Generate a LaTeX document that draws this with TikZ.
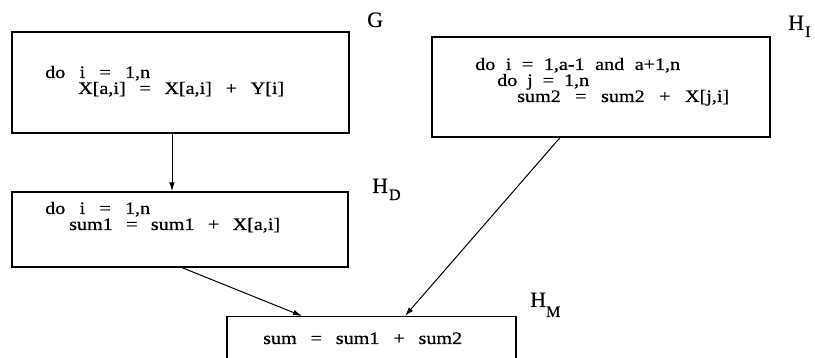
\documentclass[tikz,border=0pt]{standalone}
\usepackage{fontspec}
\setmainfont{Liberation Serif}
\newfontfamily\codefont[FakeBold=0.6,FakeStretch=1.15]{Liberation Serif}
\newfontfamily\lblfont[FakeBold=0.4]{Liberation Serif}
\usetikzlibrary{arrows.meta}
\tikzset{
  codebox/.style={draw, line width=1.3pt, inner sep=0pt},
  code/.style={anchor=base west, inner sep=0pt, font=\codefont\fontsize{17.5}{19}\selectfont},
  lbl/.style={anchor=base west, inner sep=0pt, font=\lblfont\fontsize{22}{23}\selectfont},
  flow/.style={line width=1pt, -{Latex[length=9pt,width=5.5pt]}}
}
\newcommand{\codeline}[2]{\makebox[#1pt][s]{#2}}
\newcommand{\subl}[2]{\raisebox{#1pt}{\fontsize{16}{16}\selectfont #2}}
\begin{document}
\begin{tikzpicture}[x=1pt,y=-1pt]
\useasboundingbox (0,0) rectangle (815,358);
\clip (0,0) rectangle (815,358);
% boxes
\node[codebox, minimum width=337pt, minimum height=101pt] (Gb) at (180.5,82.5) {};
\node[codebox, minimum width=336pt, minimum height=75pt] (HDb) at (180,229.5) {};
\node[codebox, minimum width=338pt, minimum height=100pt] (HIb) at (601,87) {};
\node[codebox, minimum width=289pt, minimum height=60pt, anchor=north] (HMb) at (371.5,316) {};
% code text
\node[code] (g1) at (45,78) {\codeline{105}{do i = 1,n}};
\node[code] (g2) at (78,94) {\codeline{206}{X[a,i] = X[a,i] + Y[i]}};
\node[code] (d1) at (45,214) {\codeline{105}{do i = 1,n}};
\node[code] (d2) at (69,230) {\codeline{211}{sum1 = sum1 + X[a,i]}};
\node[code] (i1) at (475,70) {\codeline{205}{do i = 1,a-1 and a+1,n}};
\node[code] (i2) at (497,86) {\codeline{92}{do j = 1,n}};
\node[code] (i3) at (517,102) {\codeline{212}{sum2 = sum2 + X[j,i]}};
\node[code] (m1) at (263,344) {\codeline{199}{sum = sum1 + sum2}};
% labels
\node[lbl] (lG) at (367,27) {G};
\node[lbl] (lI) at (788,30) {H\hspace{1pt}\subl{-7}{I}};
\node[lbl] (lD) at (372,193) {H\hspace{1pt}\subl{-7}{D}};
\node[lbl] (lM) at (530,307) {H\subl{-10}{M}};
% connectors
\draw[flow] (Gb.south -| 172,0) -- (HDb.north -| 172,0);
\draw[flow] (HDb.south -| 182,0) -- (HMb.north -| 302,0);
\draw[flow] (HIb.south -| 560,0) -- (HMb.north -| 405,0);
\end{tikzpicture}
\end{document}
